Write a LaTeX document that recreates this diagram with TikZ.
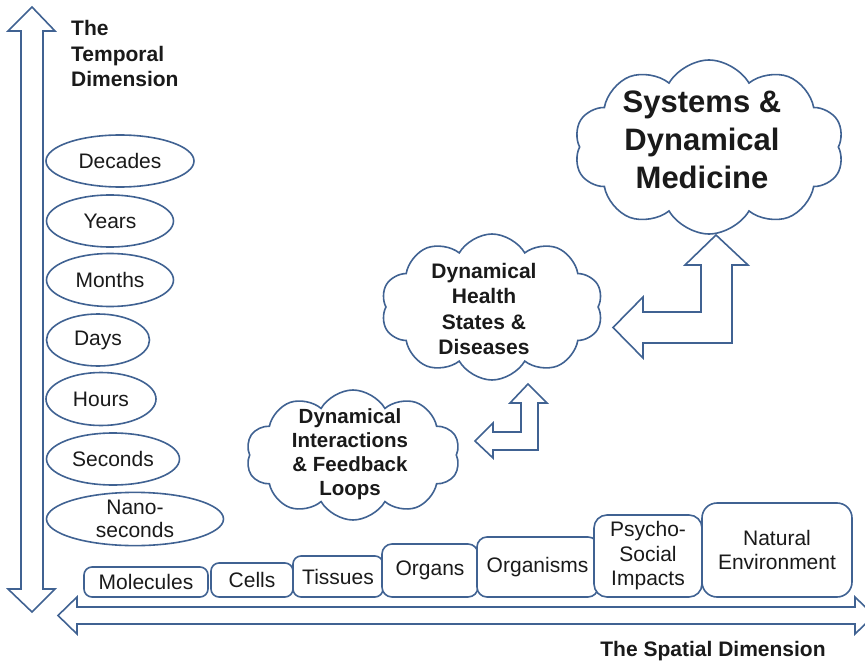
\documentclass[tikz,border=0pt]{standalone}
\usepackage{fontspec}
\setmainfont{Liberation Sans}
\usetikzlibrary{shapes.geometric,shapes.symbols}
\definecolor{edgeblue}{RGB}{64,98,146}
\definecolor{ink}{RGB}{26,26,26}
\begin{document}
\begin{tikzpicture}[x=1pt,y=-1pt,
  outline/.style={draw=edgeblue, line width=1.6pt, line join=miter},
  timebox/.style={ellipse, outline, fill=white, inner sep=0pt, text=ink,
    align=center, font=\fontsize{21}{23}\selectfont},
  scalebox/.style={rectangle, rounded corners=8pt, outline, fill=white,
    inner sep=0pt, text=ink, align=center, font=\fontsize{21}{24.5}\selectfont},
  idea/.style={cloud, cloud puffs=10, cloud puff arc=120, cloud ignores aspect,
    outline, fill=white, inner sep=0pt},
  ideatext/.style={text=ink, align=center, inner sep=0pt},
  axislabel/.style={text=ink, inner sep=0pt,
    font=\bfseries\fontsize{21}{25.5}\selectfont}]
\useasboundingbox (0,0) rectangle (865,661);

% time axis (double-headed block arrow)
\draw[outline] (32,7) -- (55,31) -- (43,31) -- (43,589) -- (55,589) -- (32,612)
  -- (8,589) -- (21,589) -- (21,31) -- (8,31) -- cycle;
% space axis (double-headed block arrow)
\draw[outline] (58,615.5) -- (77,597) -- (77,607) -- (855,607) -- (855,597)
  -- (874,615.5) -- (855,634) -- (855,624) -- (77,624) -- (77,634) -- cycle;

\node[axislabel, align=left, anchor=west] (tlabel) at (71,53.5)
  {The\\Temporal\\Dimension};
\node[axislabel] (slabel) at (713,651.5) {The Spatial Dimension};

% time scales
\node[timebox, minimum width=148, minimum height=52] (decades) at (120,161) {Decades};
\node[timebox, minimum width=127, minimum height=52] (years)   at (110,221) {Years};
\node[timebox, minimum width=127, minimum height=53] (months)  at (110,280) {Months};
\node[timebox, minimum width=103, minimum height=52] (days)    at (98,340)  {Days};
\node[timebox, minimum width=110, minimum height=53] (hours)   at (101,399) {Hours};
\node[timebox, minimum width=133, minimum height=52] (seconds) at (113,459) {Seconds};
\node[timebox, minimum width=177, minimum height=52] (nano)    at (135,519) {Nano-\\seconds};

% spatial scales
\node[scalebox, minimum width=124, minimum height=30] (molecules) at (146,582) {Molecules};
\node[scalebox, minimum width=82,  minimum height=34] (cells)     at (252,580) {Cells};
\node[scalebox, minimum width=90,  minimum height=41] (tissues)   at (338,576.5) {Tissues};
\node[scalebox, minimum width=96,  minimum height=53, rounded corners=10pt] (organs) at (430,570.5) {Organs};
\node[scalebox, minimum width=121, minimum height=60, rounded corners=10pt] (organisms) at (537.5,567) {Organisms};
\node[scalebox, minimum width=108, minimum height=82, rounded corners=13pt] (psycho) at (648,556) {Psycho-\\Social\\Impacts};
\node[scalebox, minimum width=150, minimum height=94, rounded corners=15pt] (natural) at (777,550) {Natural\\Environment};

% concept clouds, with their captions set on top
\node[idea, minimum width=270, minimum height=174] (sysmed) at (709,147) {};
\node[ideatext, font=\bfseries\fontsize{31}{38}\selectfont] (sysmedtext)
  at (702,140) {Systems \&\\Dynamical\\Medicine};
\node[idea, minimum width=222, minimum height=146] (health) at (492,307) {};
\node[ideatext, font=\bfseries\fontsize{21}{25.5}\selectfont] (healthtext)
  at (484,309) {Dynamical\\Health\\States \&\\Diseases};
\node[idea, minimum width=214, minimum height=130] (loops) at (353,455) {};
\node[ideatext, font=\bfseries\fontsize{20.5}{24}\selectfont] (loopstext)
  at (350,454) {Dynamical\\Interactions\\\& Feedback\\Loops};

% bent-up block arrows between the clouds
\draw[outline] (716,235) -- (748,265) -- (732,265) -- (732,343) -- (643,343)
  -- (643,358) -- (613,327.5) -- (643,297) -- (643,312) -- (701,312)
  -- (701,265) -- (685,265) -- cycle;
\draw[outline] (528,384) -- (547,403) -- (538,403) -- (538,450) -- (493,450)
  -- (493,458) -- (475,441) -- (493,423) -- (493,432) -- (521,432)
  -- (521,403) -- (510,403) -- cycle;
\end{tikzpicture}
\end{document}
